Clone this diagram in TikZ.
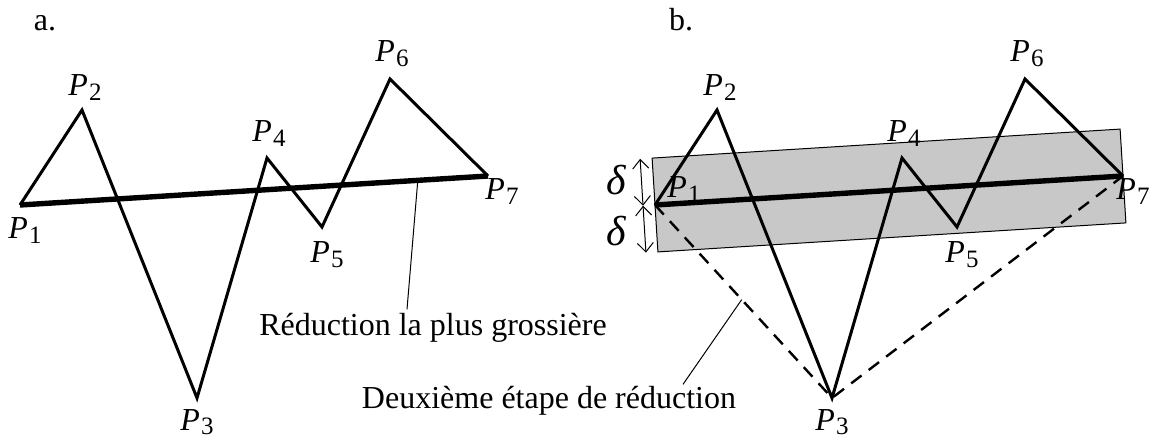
\documentclass[tikz,border=0pt]{standalone}
\usepackage{fontspec}
\setmainfont{Liberation Serif}
\usetikzlibrary{arrows.meta,calc}
\definecolor{bandgray}{RGB}{200,200,200}
\newcommand{\Pt}[1]{\textit{P}\kern0.5pt\raisebox{-2.3pt}{\fontsize{12.5}{14}\selectfont #1}}

\begin{document}
\begin{tikzpicture}[x=0.5pt,y=-0.5pt,
    lab/.style={anchor=base,inner sep=0pt,font=\fontsize{16}{19}\selectfont},
    poly/.style={line width=1.5pt,line join=miter},
    chord/.style={line width=2.7pt},
    second/.style={line width=1.2pt,dash pattern=on 6.5pt off 4.5pt},
    lead/.style={line width=0.5pt},
    dim/.style={line width=0.5pt,{Straight Barb[length=4.5pt,width=8pt]}-{Straight Barb[length=4.5pt,width=8pt]}}]
\useasboundingbox (0,0) rectangle (1150,438);

% vertices of the polyline, panel a and panel b
\foreach \n/\dx in {a/0,b/635}
  \foreach \i/\px/\py in {1/20/205,2/82/110,3/197/398,4/267/158,5/322/227,6/390/79,7/488/176}
    \coordinate (\n\i) at (\px+\dx,\py);

% tolerance band of width 2 delta around P1-P7
\filldraw[fill=bandgray,line width=0.5pt]
  ($(b1)!23.5pt!90:(b7)$) -- ($(b7)!23.5pt!-90:(b1)$) -- ($(b7)!23.5pt!90:(b1)$) -- ($(b1)!23.5pt!-90:(b7)$) -- cycle;
\coordinate (dm) at ($(b1)!-6pt!(b7)$);
\draw[dim] ($(dm)!23.5pt!90:(b7)$) -- (dm);
\draw[dim] (dm) -- ($(dm)!23.5pt!-90:(b7)$);
\node[lab,font=\fontsize{21}{24}\selectfont] (delta1) at (617,195) {\textit{δ}};
\node[lab,font=\fontsize{21}{24}\selectfont] (delta2) at (617,245) {\textit{δ}};

% second step of the reduction
\draw[second] (b1) -- coordinate[pos=0.49] (bd) (b3) -- (b7);

\foreach \n/\sx in {a/14,b/10}{
  \draw[poly] (\n1) -- (\n2) -- (\n3) -- (\n4) -- (\n5) -- (\n6) -- (\n7);
  \draw[chord] (\n1) -- coordinate[pos=0.85] (\n m) (\n7);
  \foreach \i/\ox/\oy in {2/3/-14,3/0/32,4/2/-16,5/5/36,6/2/-17,7/\sx/24}
    \node[lab] (lab\n\i) at ($(\n\i)+(\ox,\oy)$) {\Pt{\i}};
}
\node[lab] (laba1) at ($(a1)+(5,34)$) {\Pt{1}};
\node[lab] (labb1) at ($(b1)+(29,-7)$) {\Pt{1}};

\node[lab] (tita) at (45,31) {a.};
\node[lab] (titb) at (681,31) {b.};

% leaders
\node[lab] (coarse) at (433,335) {Réduction la plus grossière};
\draw[lead] (am) -- ($(coarse.north)+(-26,-3)$);
\node[lab] (step2) at (549,408) {Deuxième étape de réduction};
\draw[lead] (bd) -- ($(step2.north)+(134,-1)$);
\end{tikzpicture}
\end{document}
